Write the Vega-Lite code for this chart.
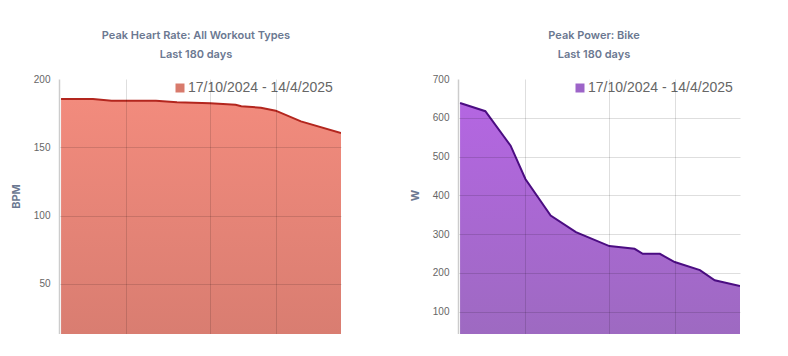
{
  "$schema": "https://vega.github.io/schema/vega-lite/v6.json",
  "background": "white",
  "padding": {"left": 10, "top": 29, "right": 0, "bottom": 0},
  "datasets": {
    "hr": [
      {"seconds": 10, "bpm": 185.4, "period": "17/10/2024 - 14/4/2025"},
      {"seconds": 24, "bpm": 185.4, "period": "17/10/2024 - 14/4/2025"},
      {"seconds": 40, "bpm": 184.1, "period": "17/10/2024 - 14/4/2025"},
      {"seconds": 135, "bpm": 184.1, "period": "17/10/2024 - 14/4/2025"},
      {"seconds": 240, "bpm": 182.9, "period": "17/10/2024 - 14/4/2025"},
      {"seconds": 600, "bpm": 182.2, "period": "17/10/2024 - 14/4/2025"},
      {"seconds": 1200, "bpm": 181.2, "period": "17/10/2024 - 14/4/2025"},
      {"seconds": 1400, "bpm": 180, "period": "17/10/2024 - 14/4/2025"},
      {"seconds": 2400, "bpm": 179, "period": "17/10/2024 - 14/4/2025"},
      {"seconds": 3600, "bpm": 176.8, "period": "17/10/2024 - 14/4/2025"},
      {"seconds": 7200, "bpm": 169, "period": "17/10/2024 - 14/4/2025"},
      {"seconds": 21600, "bpm": 160.5, "period": "17/10/2024 - 14/4/2025"}
    ],
    "power": [
      {"seconds": 10, "watts": 638, "period": "17/10/2024 - 14/4/2025"},
      {"seconds": 20, "watts": 617, "period": "17/10/2024 - 14/4/2025"},
      {"seconds": 40, "watts": 528, "period": "17/10/2024 - 14/4/2025"},
      {"seconds": 60, "watts": 442, "period": "17/10/2024 - 14/4/2025"},
      {"seconds": 120, "watts": 348, "period": "17/10/2024 - 14/4/2025"},
      {"seconds": 240, "watts": 305, "period": "17/10/2024 - 14/4/2025"},
      {"seconds": 600, "watts": 269, "period": "17/10/2024 - 14/4/2025"},
      {"seconds": 1200, "watts": 262, "period": "17/10/2024 - 14/4/2025"},
      {"seconds": 1500, "watts": 249, "period": "17/10/2024 - 14/4/2025"},
      {"seconds": 2400, "watts": 249, "period": "17/10/2024 - 14/4/2025"},
      {"seconds": 3600, "watts": 228, "period": "17/10/2024 - 14/4/2025"},
      {"seconds": 7200, "watts": 207, "period": "17/10/2024 - 14/4/2025"},
      {"seconds": 10800, "watts": 181, "period": "17/10/2024 - 14/4/2025"},
      {"seconds": 21600, "watts": 166, "period": "17/10/2024 - 14/4/2025"}
    ]
  },
  "config": {
    "font": "Inter",
    "view": {"stroke": null},
    "axis": {
      "gridColor": "rgba(0,0,0,0.13)",
      "gridWidth": 1,
      "labelFont": "Liberation Sans",
      "labelFontSize": 10,
      "labelColor": "#666",
      "ticks": false,
      "labelPadding": 9,
      "domainColor": "#cccccc",
      "domainWidth": 1.5,
      "titleFont": "Inter",
      "titleFontSize": 11,
      "titleFontWeight": 700,
      "titleColor": "#6b7891"
    },
    "title": {
      "font": "Inter",
      "fontSize": 11,
      "fontWeight": 600,
      "color": "#6b7891",
      "subtitleFont": "Inter",
      "subtitleFontSize": 11,
      "subtitleFontWeight": 600,
      "subtitleColor": "#6b7891",
      "subtitlePadding": 8,
      "offset": 14.5,
      "frame": "group"
    },
    "legend": {
      "padding": 0,
      "labelFont": "Liberation Sans",
      "labelFontSize": 14,
      "labelColor": "#666",
      "symbolType": "square",
      "symbolSize": 81,
      "symbolStrokeWidth": 0,
      "labelOffset": 1
    }
  },
  "resolve": {"scale": {"fill": "independent"}, "legend": {"fill": "independent"}},
  "spacing": 67,
  "hconcat": [
    {
      "width": 282,
      "height": 255,
      "title": {"text": "Peak Heart Rate: All Workout Types", "subtitle": "Last 180 days", "dx": -4},
      "data": {"name": "hr"},
      "encoding": {
        "x": {
          "field": "seconds", "type": "quantitative",
          "scale": {"type": "log", "domain": [9.45, 21600], "nice": false},
          "axis": {"values": [60, 600, 3600], "labels": false, "domain": false, "title": null, "grid": true, "zindex": 1}
        },
        "y": {
          "field": "bpm", "type": "quantitative",
          "scale": {"domain": [13.3, 200], "zero": false, "nice": false},
          "axis": {
            "values": [50, 100, 150, 200], "title": "BPM", "titlePadding": 12, "titleY": 117, "zindex": 1,
            "gridOpacity": {"condition": {"test": "datum.value >= 200", "value": 0}, "value": 1}
          }
        }
      },
      "layer": [
        {
          "mark": {"type": "point", "shape": "square", "filled": true, "opacity": 0, "size": 4},
          "encoding": {
            "fill": {
              "field": "period", "type": "nominal",
              "scale": {"range": ["#d87a6c"]},
              "legend": {"title": null, "orient": "none", "legendX": 114, "legendY": 2, "encode": {"symbols": {"update": {"opacity": {"value": 1}, "fillOpacity": {"value": 1}, "stroke": {"value": "transparent"}}}}}
            }
          }
        },
        {
          "mark": {"type": "area", "clip": true, "fill": {"gradient": "linear", "x1": 0, "y1": 0, "x2": 0, "y2": 1, "stops": [{"offset": 0, "color": "#f28b7d"}, {"offset": 1, "color": "#d77c70"}]}},
          "encoding": {}
        },
        {"mark": {"type": "line", "color": "#b3261e", "strokeWidth": 2, "clip": true}, "encoding": {}}
      ]
    },
    {
      "width": 282,
      "height": 255,
      "title": {"text": "Peak Power: Bike", "subtitle": "Last 180 days", "dx": -5},
      "data": {"name": "power"},
      "encoding": {
        "x": {
          "field": "seconds", "type": "quantitative",
          "scale": {"type": "log", "domain": [9.45, 21600], "nice": false},
          "axis": {"values": [60, 600, 3600], "labels": false, "domain": false, "title": null, "grid": true, "zindex": 1}
        },
        "y": {
          "field": "watts", "type": "quantitative",
          "scale": {"domain": [42.3, 700], "zero": false, "nice": false},
          "axis": {
            "values": [100, 200, 300, 400, 500, 600, 700], "title": "W", "titlePadding": 12, "titleY": 116, "zindex": 1,
            "gridOpacity": {"condition": {"test": "datum.value >= 700", "value": 0}, "value": 1}
          }
        }
      },
      "layer": [
        {
          "mark": {"type": "point", "shape": "square", "filled": true, "opacity": 0, "size": 4},
          "encoding": {
            "fill": {
              "field": "period", "type": "nominal",
              "scale": {"range": ["#9d64c8"]},
              "legend": {"title": null, "orient": "none", "legendX": 115, "legendY": 2, "encode": {"symbols": {"update": {"opacity": {"value": 1}, "fillOpacity": {"value": 1}, "stroke": {"value": "transparent"}}}}}
            }
          }
        },
        {
          "mark": {"type": "area", "clip": true, "fill": {"gradient": "linear", "x1": 0, "y1": 0, "x2": 0, "y2": 1, "stops": [{"offset": 0, "color": "#b466e2"}, {"offset": 1, "color": "#9c6abf"}]}},
          "encoding": {}
        },
        {"mark": {"type": "line", "color": "#4b0d82", "strokeWidth": 2, "clip": true}, "encoding": {}}
      ]
    }
  ]
}
